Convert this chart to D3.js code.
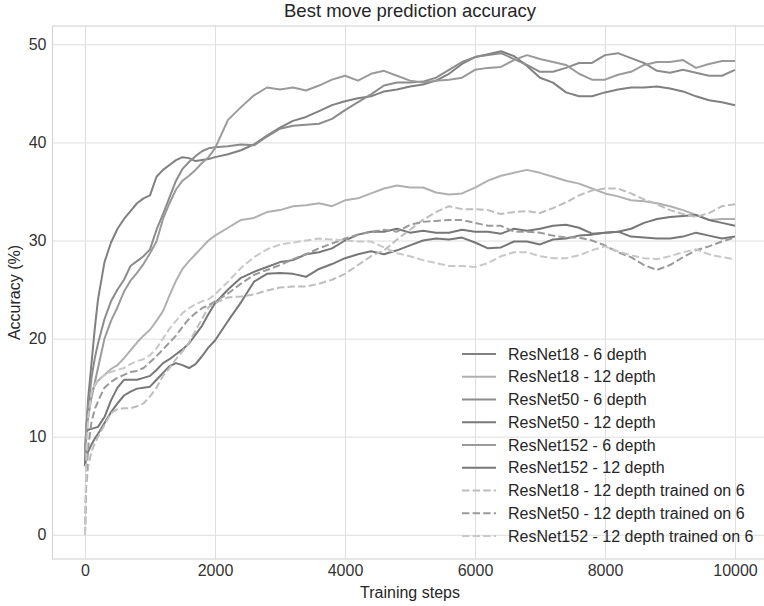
<!DOCTYPE html>
<html>
<head>
<meta charset="utf-8">
<script src="https://cdn.jsdelivr.net/npm/d3@7"></script>
<style>
  body { margin: 0; background: #fff; }
  text { font-family: "Liberation Sans", Arial, sans-serif; }
</style>
</head>
<body>
<div id="chart"></div>
<script>
// DATA
var steps = [0, 20, 50, 100, 150, 200, 300, 400, 500, 600, 700, 800, 900, 1000, 1100, 1200, 1300, 1400, 1500, 1600, 1700, 1800, 1900, 2000,
  2200, 2400, 2600, 2800, 3000, 3200, 3400, 3600, 3800, 4000, 4200, 4400, 4600, 4800, 5000, 5200, 5400, 5600, 5800, 6000,
  6200, 6400, 6600, 6800, 7000, 7200, 7400, 7600, 7800, 8000, 8200, 8400, 8600, 8800, 9000, 9200, 9400, 9600, 9800, 10000];

var resnet18_6 = [8, 11, 14, 17.5, 21, 24, 27.8, 29.8, 31.2, 32.2, 33, 33.8, 34.3, 34.6, 36.5, 37.2, 37.7, 38.2, 38.5, 38.4, 38.1, 38.2, 38.3, 38.5,
  38.8, 39.2, 39.8, 40.7, 41.5, 42.2, 42.6, 43.2, 43.8, 44.2, 44.5, 44.7, 45.2, 45.4, 45.7, 45.9, 46.3, 47.0, 48.0, 48.7,
  49.0, 49.3, 48.8, 47.8, 46.6, 46.1, 45.1, 44.7, 44.7, 45.1, 45.4, 45.6, 45.6, 45.7, 45.5, 45.2, 44.7, 44.3, 44.1, 43.8];

var resnet18_12 = [7, 11, 13, 14.5, 15.2, 15.7, 16.3, 16.9, 17.3, 18.0, 18.8, 19.6, 20.3, 20.9, 21.8, 22.8, 24.4, 25.9, 27.1, 27.9, 28.6, 29.3, 30.0, 30.5,
  31.3, 32.1, 32.3, 32.9, 33.1, 33.5, 33.6, 33.8, 33.5, 34.1, 34.3, 34.8, 35.3, 35.6, 35.4, 35.4, 34.9, 34.7, 34.8, 35.4,
  36.1, 36.6, 36.9, 37.2, 36.9, 36.5, 36.1, 35.8, 35.3, 34.8, 34.5, 34.1, 34.0, 33.8, 33.5, 33.1, 32.6, 32.1, 32.2, 32.2];

var resnet50_6 = [8, 11, 13, 16, 18, 19.5, 22, 23.8, 25, 26, 27.4, 27.9, 28.4, 29.1, 31.1, 32.7, 34.4, 36.1, 37.3, 38.0, 38.6, 39.1, 39.4, 39.5,
  39.6, 39.8, 39.7, 40.6, 41.4, 41.7, 41.8, 41.9, 42.4, 43.3, 44.1, 44.9, 45.8, 46.1, 46.1, 46.2, 46.6, 47.4, 48.2, 48.7,
  48.9, 49.1, 48.5, 47.9, 47.2, 47.2, 47.6, 48.1, 48.1, 48.9, 49.1, 48.6, 48.1, 47.3, 47.1, 47.4, 47.1, 46.8, 46.8, 47.4];

var resnet50_12 = [7, 10.5, 10.7, 10.8, 10.9, 11.0, 12.0, 13.7, 15.0, 15.8, 15.8, 15.8, 16.0, 16.2, 16.8, 17.5, 17.9, 18.4, 18.9, 19.5, 20.4, 21.3, 22.5, 23.6,
  25.0, 26.2, 26.8, 27.3, 27.8, 28.0, 28.6, 28.8, 29.2, 30.0, 30.6, 30.9, 30.9, 31.2, 30.8, 31.0, 30.8, 30.8, 31.1, 30.9,
  30.9, 30.7, 31.2, 31.0, 31.2, 31.5, 31.6, 31.3, 30.7, 30.8, 30.9, 31.2, 31.8, 32.2, 32.4, 32.5, 32.6, 32.1, 31.8, 31.5];

var resnet152_6 = [8, 10.5, 12, 14, 15.5, 17, 20, 21.8, 23.2, 24.8, 25.9, 26.7, 27.6, 28.7, 29.9, 32.2, 33.8, 35.2, 36.1, 36.6, 37.2, 37.9, 38.5, 39.4,
  42.3, 43.6, 44.8, 45.6, 45.4, 45.6, 45.3, 45.8, 46.4, 46.8, 46.3, 47.0, 47.3, 46.8, 46.3, 46.1, 46.3, 46.4, 46.6, 47.4,
  47.6, 47.7, 48.4, 48.9, 48.5, 48.2, 47.9, 47.0, 46.4, 46.4, 46.9, 47.2, 47.9, 48.2, 48.2, 48.4, 47.6, 48.0, 48.3, 48.3];

var resnet152_12 = [7, 8, 8.5, 9.2, 9.8, 10.3, 11.4, 12.5, 13.4, 14.2, 14.6, 14.9, 15.0, 15.1, 15.8, 16.5, 17.2, 17.5, 17.3, 17.0, 17.4, 18.2, 19.1, 19.8,
  21.8, 23.7, 25.8, 26.6, 26.7, 26.6, 26.3, 27.1, 27.6, 28.2, 28.6, 28.9, 28.6, 29.0, 29.5, 30.0, 30.2, 30.1, 30.3, 29.8,
  29.2, 29.3, 29.9, 29.9, 29.6, 30.1, 30.2, 30.5, 30.6, 30.8, 30.9, 30.4, 30.3, 30.2, 30.2, 30.4, 30.8, 30.5, 30.2, 30.4];

var resnet18_12_on6 = [0, 5, 7, 8.5, 9.3, 10, 11.2, 12.4, 12.8, 12.9, 12.9, 13.1, 13.4, 14.1, 15.0, 16.2, 17.0, 17.9, 18.7, 19.6, 20.8, 22.0, 23.2, 23.6,
  24.2, 24.3, 24.5, 24.9, 25.2, 25.3, 25.3, 25.6, 26.0, 26.6, 27.5, 28.4, 29.0, 30.1, 31.1, 32.1, 32.9, 33.5, 33.2, 33.2,
  33.1, 32.7, 32.9, 33.0, 32.8, 33.3, 33.9, 34.6, 35.1, 35.3, 35.3, 34.8, 34.2, 33.7, 33.1, 32.7, 32.4, 32.8, 33.5, 33.7];

var resnet50_12_on6 = [0, 6, 9, 11.5, 12.8, 13.6, 15.0, 15.6, 16.0, 16.3, 16.6, 16.7, 17.0, 17.6, 18.2, 18.9, 19.6, 20.3, 21.2, 22.0, 22.6, 23.1, 23.4, 23.8,
  24.6, 25.6, 26.5, 27.0, 27.5, 28.1, 28.6, 29.2, 29.7, 30.2, 30.6, 30.9, 31.1, 30.9, 31.6, 31.9, 32.0, 32.1, 32.1, 31.8,
  31.5, 31.5, 30.9, 30.9, 30.8, 30.5, 30.3, 30.3, 30.0, 29.5, 28.8, 28.3, 27.5, 27.0, 27.5, 28.3, 29.0, 29.4, 29.9, 30.3];

var resnet152_12_on6 = [0, 8, 12, 14.5, 15.3, 15.8, 16.3, 16.6, 16.8, 17.0, 17.4, 17.7, 17.9, 18.3, 19.0, 20.0, 21.0, 21.8, 22.6, 23.1, 23.5, 23.8, 24.0, 24.5,
  25.8, 27.2, 28.3, 29.1, 29.6, 29.8, 30.0, 30.2, 30.1, 30.0, 29.9, 29.9, 29.3, 28.7, 28.4, 28.0, 27.7, 27.4, 27.4, 27.3,
  27.7, 28.4, 28.8, 28.8, 28.4, 28.2, 28.2, 28.5, 29.0, 29.4, 28.9, 28.5, 28.2, 28.1, 28.4, 28.8, 29.1, 28.6, 28.3, 28.1];

var labels = ["ResNet18 - 6 depth", "ResNet18 - 12 depth", "ResNet50 - 6 depth", "ResNet50 - 12 depth",
  "ResNet152 - 6 depth", "ResNet152 - 12 depth", "ResNet18 - 12 depth trained on 6",
  "ResNet50 - 12 depth trained on 6", "ResNet152 - 12 depth trained on 6"];
var xTicks = [0, 2000, 4000, 6000, 8000, 10000];
var yTicks = [0, 10, 20, 30, 40, 50];

var allValues = [resnet18_6, resnet18_12, resnet50_6, resnet50_12, resnet152_6, resnet152_12,
  resnet18_12_on6, resnet50_12_on6, resnet152_12_on6];
var colors = ["#808080", "#b0b0b0", "#8c8c8c", "#777777", "#9a9a9a", "#777777", "#bdbdbd", "#9a9a9a", "#c8c8c8"];
var dashed = [false, false, false, false, false, false, true, true, true];

// SVG
var width = 764, height = 606;
var mLeft = 52.5, mRight = 767.5, mTop = 26, mBottom = 559;
var fontSize = 16;

var svg = d3.select("#chart").append("svg")
  .attr("width", width)
  .attr("height", height);

svg.append("rect").attr("width", width).attr("height", height).attr("fill", "white");

var xScale = d3.scaleLinear().domain([-500, 10500]).range([mLeft, mRight]),
  yScale = d3.scaleLinear().domain([-2.47, 51.87]).range([mBottom, mTop]);

// grid
svg.append("g")
  .attr("transform", "translate(0," + mBottom + ")")
  .call(d3.axisBottom(xScale).tickValues(xTicks).tickSize(-(mBottom - mTop)).tickFormat(""))
  .call(g => g.select(".domain").remove())
  .selectAll("line").attr("stroke", "#dedede").attr("stroke-width", 1);

svg.append("g")
  .attr("transform", "translate(" + mLeft + ",0)")
  .call(d3.axisLeft(yScale).tickValues(yTicks).tickSize(-(mRight - mLeft)).tickFormat(""))
  .call(g => g.select(".domain").remove())
  .selectAll("line").attr("stroke", "#dedede").attr("stroke-width", 1);

// frame
svg.append("rect")
  .attr("x", mLeft).attr("y", mTop)
  .attr("width", mRight - mLeft).attr("height", mBottom - mTop)
  .attr("fill", "none").attr("stroke", "#d6d6d6").attr("stroke-width", 1.2);

// tick labels
var xAxis = svg.append("g")
  .attr("transform", "translate(0," + mBottom + ")")
  .call(d3.axisBottom(xScale).tickValues(xTicks).tickSize(0).tickPadding(6).tickFormat(d3.format("d")));
xAxis.select(".domain").remove();
xAxis.selectAll("text").attr("font-size", fontSize).attr("fill", "#333")
  .style("font-family", "'Liberation Sans', Arial, sans-serif");

var yAxis = svg.append("g")
  .attr("transform", "translate(" + mLeft + ",0)")
  .call(d3.axisLeft(yScale).tickValues(yTicks).tickSize(0).tickPadding(6));
yAxis.select(".domain").remove();
yAxis.selectAll("text").attr("font-size", fontSize).attr("fill", "#333")
  .style("font-family", "'Liberation Sans', Arial, sans-serif");

// titles
svg.append("text")
  .attr("x", (mLeft + mRight) / 2).attr("y", 17)
  .attr("text-anchor", "middle").attr("font-size", 18.5).attr("fill", "#262626")
  .text("Best move prediction accuracy");

svg.append("text")
  .attr("x", (mLeft + mRight) / 2).attr("y", 598)
  .attr("text-anchor", "middle").attr("font-size", fontSize).attr("fill", "#262626")
  .text("Training steps");

svg.append("text")
  .attr("transform", "translate(20," + (mTop + mBottom) / 2 + ") rotate(-90)")
  .attr("text-anchor", "middle").attr("font-size", fontSize).attr("fill", "#262626")
  .text("Accuracy (%)");

// lines
svg.append("clipPath").attr("id", "clip")
  .append("rect").attr("x", mLeft).attr("y", mTop).attr("width", mRight - mLeft).attr("height", mBottom - mTop);

var line = d3.line()
  .x(function (d) { return xScale(d[0]); })
  .y(function (d) { return yScale(d[1]); });

var g = svg.append("g").attr("clip-path", "url(#clip)");

allValues.forEach(function (vals, i) {
  g.append("path")
    .datum(steps.map(function (s, j) { return [s, vals[j]]; }))
    .attr("fill", "none")
    .attr("stroke", colors[i])
    .attr("stroke-width", 2)
    .attr("stroke-linejoin", "round")
    .attr("stroke-dasharray", dashed[i] ? "7.4,3.2" : null)
    .attr("d", line);
});

// legend
var legend = svg.append("g").attr("transform", "translate(462,354)");
labels.forEach(function (lab, i) {
  var row = legend.append("g").attr("transform", "translate(0," + i * 22.75 + ")");
  row.append("line")
    .attr("x1", 0).attr("x2", 34).attr("y1", 0).attr("y2", 0)
    .attr("stroke", colors[i]).attr("stroke-width", 2)
    .attr("stroke-dasharray", dashed[i] ? "7.4,3.2" : null);
  row.append("text")
    .attr("x", 46).attr("y", 5.5)
    .attr("font-size", fontSize).attr("fill", "#262626")
    .text(lab);
});
</script>
</body>
</html>
